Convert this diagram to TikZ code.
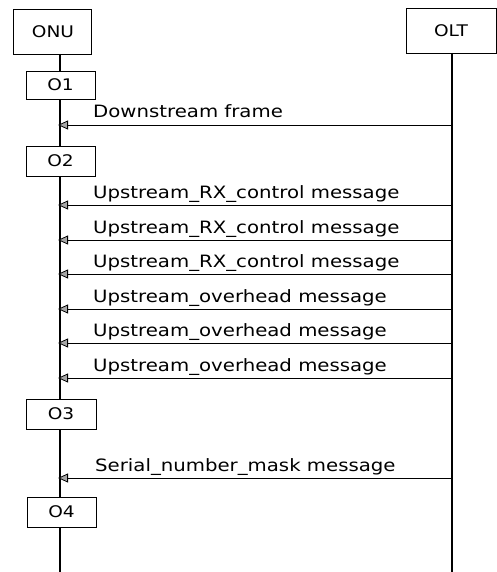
\documentclass[tikz,border=0pt]{standalone}
\usepackage{fontspec}
\setmainfont{DejaVu Sans}
\usetikzlibrary{arrows.meta}
\newcommand{\wtxt}[1]{\scalebox{1.16}[1]{#1}}
\begin{document}
\begin{tikzpicture}[x=1pt,y=-1pt,
  actor/.style={draw,line width=0.8pt},
  stepbox/.style={draw,fill=white,line width=0.8pt,font=\fontsize{16}{16}\selectfont},
  life/.style={line width=1.4pt},
  msg/.style={line width=0.8pt,-{Triangle[length=10pt,width=9pt,fill=gray!70]}},
  lbl/.style={anchor=base west,inner sep=0pt,font=\fontsize{17}{17}\selectfont}]
\useasboundingbox (0,0) rectangle (497,572);
% lifeline anchors
\coordinate (onutop) at (60,54);
\coordinate (onubot) at (60,572);
\coordinate (olttop) at (452,53);
\coordinate (oltbot) at (452,572);
\draw[life] (onutop) -- (onubot);
\draw[life] (olttop) -- (oltbot);
% actors
\draw[actor] (13,9) rectangle (91,54);
\node[font=\fontsize{16}{16}\selectfont] (onu) at (53,31.5) {\wtxt{ONU}};
\draw[actor] (406,8) rectangle (496.5,53);
\node[font=\fontsize{16}{16}\selectfont] (olt) at (451,30.5) {\wtxt{OLT}};
% step boxes
\node[stepbox,minimum width=69pt,minimum height=28pt] (s1) at (60.5,85) {\wtxt{O1}};
\node[stepbox,minimum width=69pt,minimum height=30pt] (s2) at (60.5,161) {\wtxt{O2}};
\node[stepbox,minimum width=70pt,minimum height=30pt] (s3) at (61,414) {\wtxt{O3}};
\node[stepbox,minimum width=69pt,minimum height=30pt] (s4) at (61.5,512) {\wtxt{O4}};
% message end points
\foreach \i/\y in {0/125,1/205,2/240,3/274,4/309,5/343,6/378,7/478}{
  \coordinate (r\i) at (452,\y);
  \coordinate (l\i) at (58,\y);
}
\draw[msg] (r0) -- (l0);
\node[lbl] (t0) at (93,118) {\wtxt{Downstream frame}};
\foreach \i/\y in {1/205,2/240,3/274}{
  \draw[msg] (r\i) -- (l\i);
  \node[lbl] (t\i) at (93,\y-7) {\wtxt{Upstream\_RX\_control message}};
}
\foreach \i/\y in {4/309,5/343,6/378}{
  \draw[msg] (r\i) -- (l\i);
  \node[lbl] (t\i) at (93,\y-7) {\wtxt{Upstream\_overhead message}};
}
\draw[msg] (r7) -- (l7);
\node[lbl] (t7) at (95,471) {\wtxt{Serial\_number\_mask message}};
\end{tikzpicture}
\end{document}
